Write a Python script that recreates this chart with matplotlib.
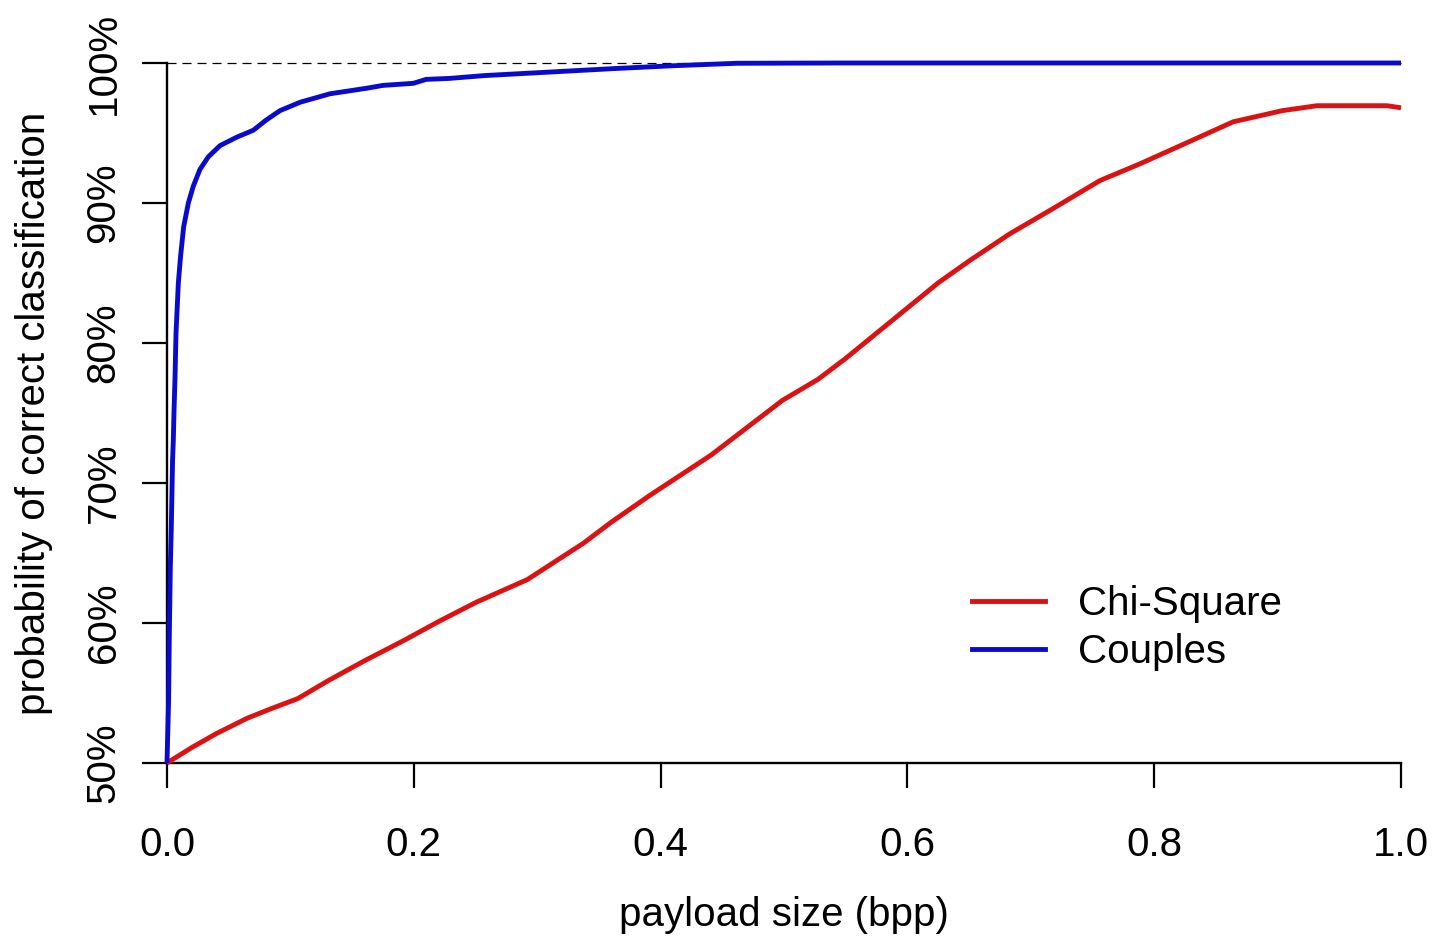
import matplotlib
matplotlib.use("Agg")
import matplotlib.pyplot as plt
from matplotlib.lines import Line2D

plt.rcParams["font.family"] = ["Liberation Sans", "DejaVu Sans"]
plt.rcParams["lines.scale_dashes"] = False

# Detection accuracy vs. embedded payload
chi_x = [0.0, 0.02, 0.04, 0.065, 0.085, 0.106, 0.131, 0.16, 0.193, 0.22,
         0.251, 0.292, 0.3375, 0.36, 0.391, 0.441, 0.4987, 0.5275, 0.55,
         0.6, 0.625, 0.6507, 0.683, 0.718, 0.756, 0.7885, 0.8314, 0.864,
         0.904, 0.932, 0.96, 0.9886, 1.0]
chi_y = [50.0, 51.1, 52.1, 53.2, 53.9, 54.6, 55.9, 57.3, 58.8, 60.1,
         61.5, 63.1, 65.7, 67.2, 69.1, 72.0, 75.9, 77.4, 78.9,
         82.5, 84.3, 85.9, 87.8, 89.6, 91.6, 92.8, 94.5, 95.8,
         96.6, 96.95, 96.95, 96.95, 96.8]

couples_x = [0.0, 0.0013, 0.0019, 0.0027, 0.0035, 0.0045, 0.0051, 0.0057,
             0.0065, 0.0073, 0.0092, 0.011, 0.0135, 0.0173, 0.0213, 0.0267,
             0.0335, 0.043, 0.0565, 0.07, 0.08, 0.0916, 0.108, 0.132, 0.162,
             0.175, 0.1997, 0.21, 0.229, 0.257, 0.32, 0.362, 0.409, 0.4616,
             0.545, 1.0]
couples_y = [50.0, 54.5, 59.3, 64.0, 66.9, 71.6, 73.0, 75.2,
             77.5, 80.7, 84.3, 86.2, 88.3, 90.0, 91.2, 92.4,
             93.3, 94.1, 94.7, 95.2, 95.9, 96.6, 97.2, 97.8, 98.2,
             98.4, 98.55, 98.83, 98.9, 99.1, 99.4, 99.6, 99.8, 99.98,
             100.0, 100.0]

x_ticks = [0.0, 0.2, 0.4, 0.6, 0.8, 1.0]
x_tick_labels = ["0.0", "0.2", "0.4", "0.6", "0.8", "1.0"]
y_ticks = [50, 60, 70, 80, 90, 100]
y_tick_labels = ["50%", "60%", "70%", "80%", "90%", "100%"]
series_names = ["Chi-Square", "Couples"]

RED = "#DD1111"
BLUE = "#0A0ACD"
FS = 29
LW = 3.5

W, H = 1435, 941
fig = plt.figure(figsize=(W / 100, H / 100), dpi=100)
ax = fig.add_axes([167 / W, 1 - 763 / H, 1234 / W, 700 / H])

ax.set_xlim(0, 1)
ax.set_ylim(50, 100)

# reference line at perfect classification
ax.axhline(100, color="black", lw=0.9, dashes=(6.5, 4.3), clip_on=False, zorder=1)

ax.plot(chi_x, chi_y, color=RED, lw=LW, clip_on=False, solid_capstyle="butt", zorder=3)
ax.plot(couples_x, couples_y, color=BLUE, lw=LW, clip_on=False, solid_capstyle="butt", zorder=3)

for side in ("top", "right"):
    ax.spines[side].set_visible(False)
for side in ("left", "bottom"):
    ax.spines[side].set_linewidth(1.7)

ax.set_xticks(x_ticks)
ax.set_xticklabels(x_tick_labels, fontsize=FS)
ax.set_yticks(y_ticks)
ax.set_yticklabels(y_tick_labels, fontsize=FS, rotation=90, va="center")
ax.tick_params(axis="x", direction="out", length=18, width=1.6, pad=27.5)
ax.tick_params(axis="y", direction="out", length=18, width=1.6, pad=14)

fig.text(34.5 / W, 1 - 413 / H, "probability of correct classification",
         rotation=90, ha="center", va="center", fontsize=FS)
fig.text(784 / W, 1 - 915 / H, "payload size (bpp)",
         ha="center", va="center", fontsize=FS)

handles = [Line2D([], [], color=RED, lw=LW), Line2D([], [], color=BLUE, lw=LW)]
ax.legend(handles, series_names, loc="center left",
          bbox_to_anchor=(972 / W, 1 - 628 / H), bbox_transform=fig.transFigure,
          frameon=False, fontsize=FS, handlelength=1.81, handletextpad=0.82,
          labelspacing=0.25, borderpad=0, borderaxespad=0)

fig.savefig("out.png", dpi=100)
